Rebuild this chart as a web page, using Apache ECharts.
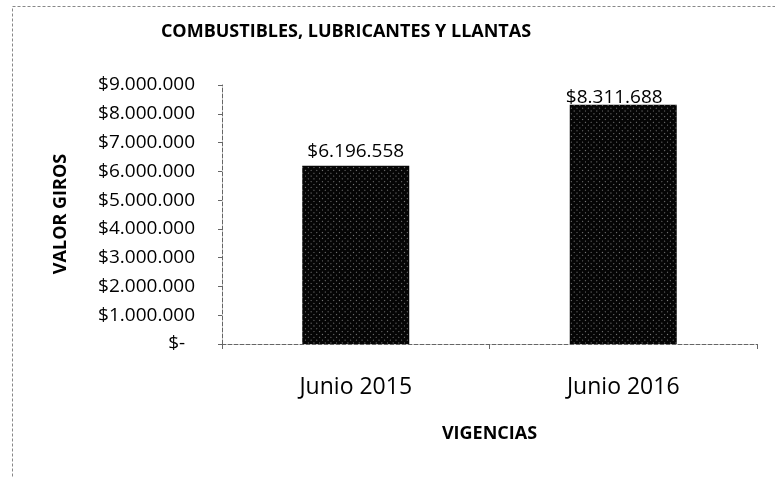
<!DOCTYPE html>
<html>
<head>
<meta charset="utf-8">
<script src="https://cdn.jsdelivr.net/npm/echarts@6/dist/echarts.min.js"></script>
<style>html,body{margin:0;padding:0;background:#fff;}#c{width:775px;height:477px;}</style>
</head>
<body>
<div id="c"></div>
<script>
var categories = ['Junio 2015', 'Junio 2016'];
var values = [6196558, 8311688];
var yTicks = [0, 1000000, 2000000, 3000000, 4000000, 5000000, 6000000, 7000000, 8000000, 9000000];
var titleText = 'COMBUSTIBLES, LUBRICANTES Y LLANTAS';
var yName = 'VALOR GIROS';
var xName = 'VIGENCIAS';

function fmt(v) {
  if (v === 0) return '$-  ';
  return '$' + String(Math.round(v)).replace(/\B(?=(\d{3})+(?!\d))/g, '.');
}
var labelOffsets = [[0, 0], [-9, 7]];
var FONT = 'Open Sans';

var chart = echarts.init(document.getElementById('c'));
chart.setOption({
  animation: false,
  backgroundColor: '#fff',
  title: {
    text: titleText, left: 341, top: 18, textAlign: 'center',
    textStyle: { fontFamily: FONT, fontWeight: 'bold', fontSize: 18, color: '#000' }
  },
  graphic: [
    { type: 'rect', shape: { x: 12.5, y: 6.5, width: 800, height: 500 },
      style: { fill: 'none', stroke: '#888', lineWidth: 1, lineDash: [3, 2] } },
    { type: 'text', x: 61, y: 214, rotation: Math.PI / 2,
      style: { text: yName, align: 'center', verticalAlign: 'middle',
        font: 'bold 18px "Open Sans"', fill: '#000' } }
  ],
  grid: { left: 222, right: 18, top: 85, bottom: 133 },
  xAxis: {
    type: 'category', data: categories,
    name: xName, nameLocation: 'middle', nameGap: 81,
    nameTextStyle: { fontFamily: FONT, fontWeight: 'bold', fontSize: 18, color: '#000' },
    axisLine: { lineStyle: { color: '#666', type: 'dashed', width: 1 } },
    axisTick: { show: true, length: 5, lineStyle: { color: '#666' } },
    axisLabel: { fontFamily: FONT, fontSize: 23, color: '#000', margin: 32 }
  },
  yAxis: {
    type: 'value', min: yTicks[0], max: yTicks[yTicks.length - 1],
    interval: yTicks[1] - yTicks[0],
    splitLine: { show: false },
    axisLine: { show: true, lineStyle: { color: '#666', type: 'dashed', width: 1 } },
    axisTick: { show: true, length: 4, lineStyle: { color: '#666' } },
    axisLabel: { fontFamily: FONT, fontSize: 19, color: '#000', margin: 27, formatter: fmt }
  },
  series: [{
    type: 'bar',
    barCategoryGap: '60%',
    data: values.map(function (v, i) {
      return { value: v, label: { offset: labelOffsets[i] } };
    }),
    itemStyle: {
      color: '#050505',
      decal: {
        symbol: 'rect', symbolSize: 1, color: 'rgba(255,255,255,0.5)',
        dashArrayX: [1, 3], dashArrayY: [1, 3], rotation: Math.PI / 4
      }
    },
    label: {
      show: true, position: 'top', distance: 5,
      fontFamily: FONT, fontSize: 19, color: '#000',
      formatter: function (p) { return fmt(p.value); }
    }
  }]
});
</script>
</body>
</html>
